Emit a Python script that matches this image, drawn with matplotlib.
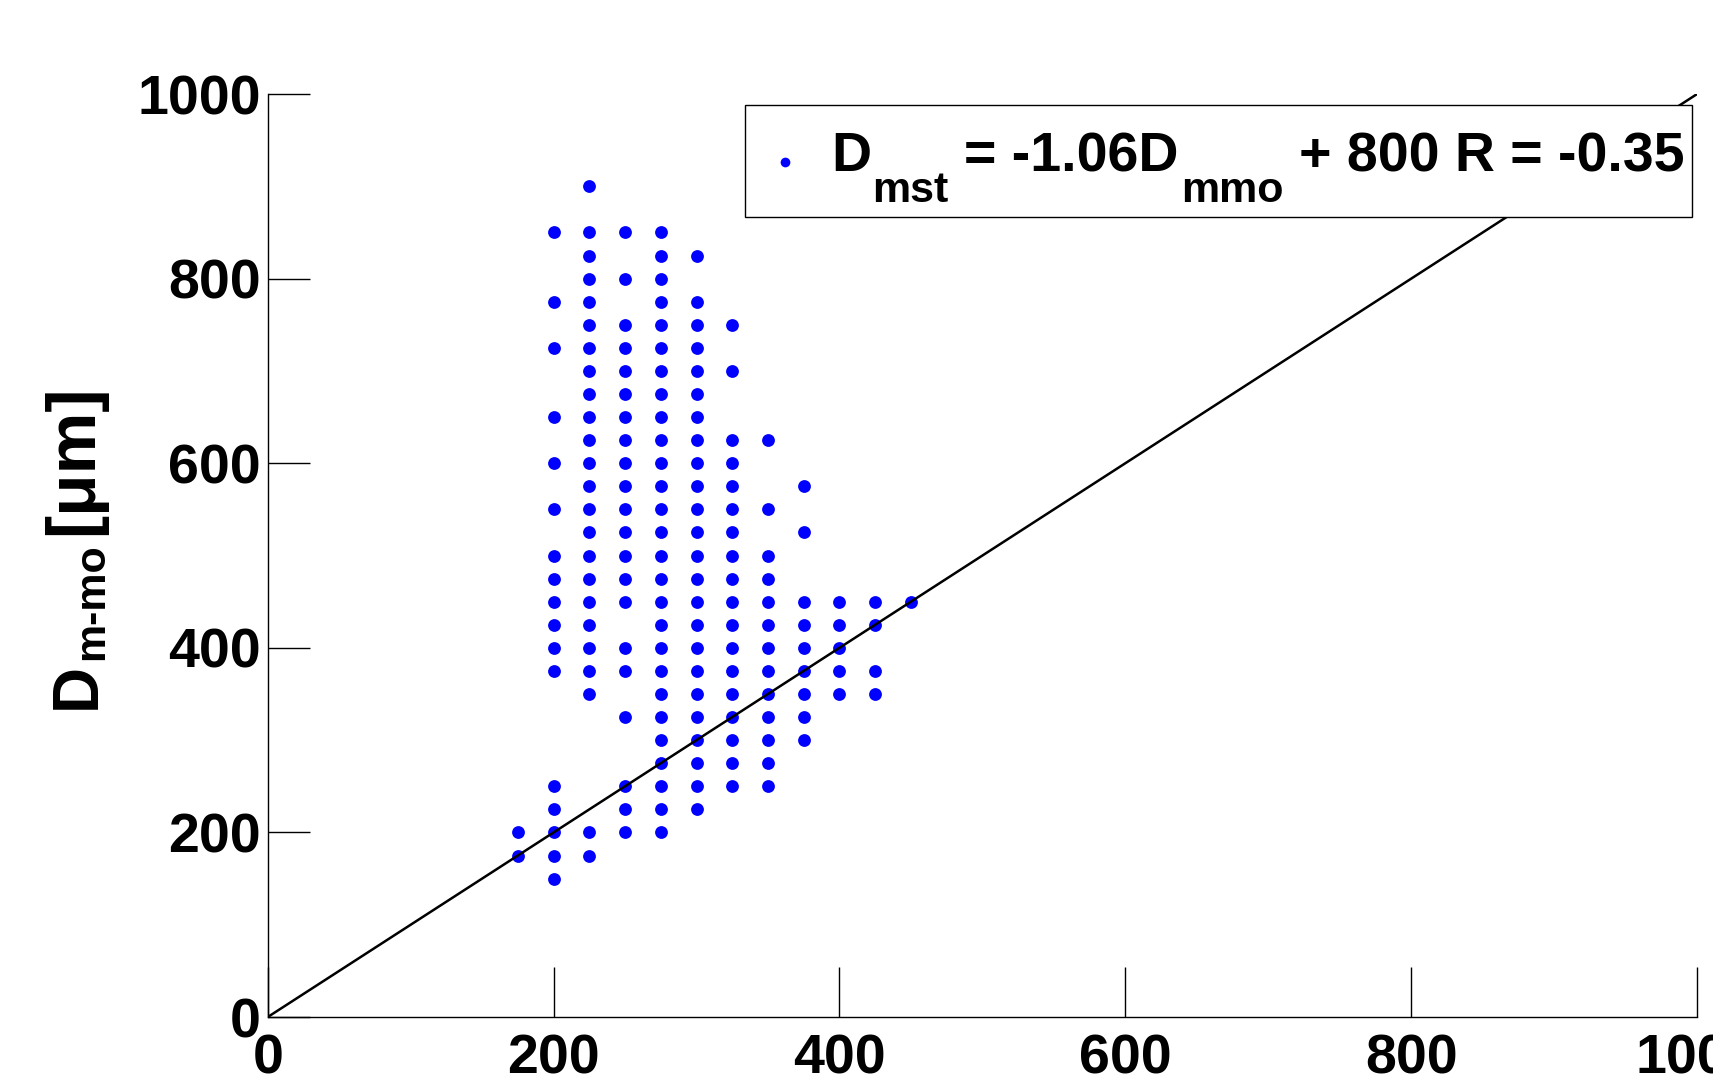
import numpy as np
import matplotlib
matplotlib.use('Agg')
import matplotlib.pyplot as plt
from matplotlib.patches import Rectangle

# D_mst columns (x) and the D_m-mo values found in each column (y)
x_cols = [175, 200, 225, 250, 275, 300, 325, 350, 375, 400, 425, 450]
y_175 = [200, 175]
y_200 = [850, 775, 725, 650, 600, 550, 500, 475, 450, 425, 400, 375, 250, 225, 200, 175, 150]
y_225 = [900, 850, 825, 800, 775, 750, 725, 700, 675, 650, 625, 600, 575, 550, 525,
         500, 475, 450, 425, 400, 375, 350, 200, 175]
y_250 = [850, 800, 750, 725, 700, 675, 650, 625, 600, 575, 550, 525, 500, 475, 450,
         400, 375, 325, 250, 225, 200]
y_275 = [850, 825, 800, 775, 750, 725, 700, 675, 650, 625, 600, 575, 550, 525, 500,
         475, 450, 425, 400, 375, 350, 325, 300, 275, 250, 225, 200]
y_300 = [825, 775, 750, 725, 700, 675, 650, 625, 600, 575, 550, 525, 500, 475, 450,
         425, 400, 375, 350, 325, 300, 275, 250, 225]
y_325 = [750, 700, 625, 600, 575, 550, 525, 500, 475, 450, 425, 400, 375, 350, 325,
         300, 275, 250]
y_350 = [625, 550, 500, 475, 450, 425, 400, 375, 350, 325, 300, 275, 250]
y_375 = [575, 525, 450, 425, 400, 375, 350, 325, 300]
y_400 = [450, 425, 400, 375, 350]
y_425 = [450, 425, 375, 350]
y_450 = [450]

# 1:1 reference line
line_x = [0, 1000]
line_y = [0, 1000]

ticks = [0, 200, 400, 600, 800, 1000]

cols = [y_175, y_200, y_225, y_250, y_275, y_300, y_325, y_350, y_375, y_400, y_425, y_450]
x = np.concatenate([np.full(len(c), xc) for xc, c in zip(x_cols, cols)])
y = np.concatenate([np.array(c) for c in cols])

plt.rcParams['font.family'] = ['Liberation Sans', 'DejaVu Sans']
plt.rcParams['font.weight'] = 'bold'

fig = plt.figure(figsize=(17.13, 10.76), dpi=100)
ax = fig.add_axes([0.1563, 0.0548, 0.8344, 0.8578])

ax.scatter(x, y, s=85, c='#0000ff', linewidths=0, zorder=2)
ax.plot(line_x, line_y, color='black', lw=1.8, zorder=3)

ax.set_xlim(0, 1000)
ax.set_ylim(0, 1000)
ax.set_xticks(ticks)
ax.set_yticks(ticks)
ax.spines['top'].set_visible(False)
ax.spines['right'].set_visible(False)
for s in ['left', 'bottom']:
    ax.spines[s].set_linewidth(1.0)
ax.tick_params(axis='x', direction='in', length=36, width=1, labelsize=40, pad=12)
ax.tick_params(axis='y', direction='in', length=30, width=1, labelsize=40, pad=5)

# legend box drawn by hand so the subscripts can sit low
ax.add_patch(Rectangle((0.3341, 0.8667), 0.6625, 0.1214, transform=ax.transAxes,
                       facecolor='white', edgecolor='black', lw=1.0, zorder=5))
ax.plot([0.3619], [0.9267], 'o', ms=7, color='#0000ff', mec='none',
        transform=ax.transAxes, clip_on=False, zorder=6)

base_y = 0.9166
sub_y = 0.8833
big = 40
small = 31
tD = ax.text(0.394, base_y, 'D', transform=ax.transAxes, fontsize=big,
             va='baseline', zorder=6)
t1 = ax.annotate('mst', xy=(1, sub_y), xycoords=(tD, 'axes fraction'),
                 xytext=(1, 0), textcoords='offset points',
                 fontsize=small, va='baseline', zorder=6)
t2 = ax.annotate('= -1.06D', xy=(1, base_y), xycoords=(t1, 'axes fraction'),
                 xytext=(11, 0), textcoords='offset points',
                 fontsize=big, va='baseline', zorder=6)
t3 = ax.annotate('mmo', xy=(1, sub_y), xycoords=(t2, 'axes fraction'),
                 xytext=(2, 0), textcoords='offset points',
                 fontsize=small, va='baseline', zorder=6)
t4 = ax.annotate('+ 800 R = -0.35', xy=(1, base_y), xycoords=(t3, 'axes fraction'),
                 xytext=(11, 0), textcoords='offset points',
                 fontsize=big, va='baseline', zorder=6)

# y label: D_{m-mo} [um], rotated
lD = fig.text(0.0552, 0.341, 'D', rotation=90, rotation_mode='anchor',
              ha='left', va='baseline', fontsize=46)
l1 = ax.annotate('m-mo', xy=(0.0600, 1), xycoords=('figure fraction', lD),
                 xytext=(0, 2), textcoords='offset points',
                 rotation=90, rotation_mode='anchor', ha='left', va='baseline',
                 fontsize=small, annotation_clip=False)
l2 = ax.annotate('[\u03bcm]', xy=(0.0535, 1), xycoords=('figure fraction', l1),
                 xytext=(0, 6), textcoords='offset points',
                 rotation=90, rotation_mode='anchor', ha='left', va='baseline',
                 fontsize=50, annotation_clip=False)

fig.savefig('out.png', dpi=100)
